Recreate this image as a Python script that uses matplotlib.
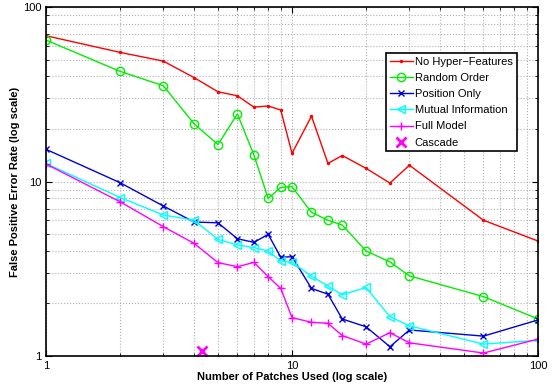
import numpy as np
import matplotlib.pyplot as plt

plt.rcParams['font.family'] = ['Liberation Sans', 'DejaVu Sans']

patches = [1, 2, 3, 4, 5, 6, 7, 8, 9, 10, 12, 14, 16, 20, 25, 30, 60, 100]

no_hyper = [68.5, 55.0, 49.0, 39.4, 32.7, 31.0, 26.7, 27.1, 25.7, 14.5,
            23.7, 12.7, 14.1, 11.9, 9.8, 12.4, 6.0, 4.56]
random_order = [64.7, 42.8, 35.4, 21.4, 16.3, 24.4, 14.2, 8.0, 9.26, 9.34,
                6.66, 6.0, 5.63, 4.0, 3.46, 2.88, 2.19, 1.63]
position_only = [15.3, 9.85, 7.24, 5.86, 5.8, 4.70, 4.48, 4.98, 3.68, 3.71,
                 2.44, 2.26, 1.63, 1.47, 1.13, 1.41, 1.30, 1.61]
mutual_info = [12.7, 8.1, 6.43, 6.0, 4.66, 4.33, 4.18, 4.0, 3.50, 3.44,
               2.87, 2.52, 2.24, 2.47, 1.68, 1.49, 1.17, 1.23]
full_model = [12.6, 7.66, 5.51, 4.42, 3.43, 3.25, 3.44, 2.85, 2.44, 1.66,
              1.56, 1.54, 1.31, 1.17, 1.36, 1.19, 1.04, 1.25]
cascade_x = [4.3]
cascade_y = [1.07]


def main():
    fig = plt.figure(figsize=(5.56, 3.86), dpi=100)
    ax = fig.add_axes([0.0827, 0.0777, 0.885, 0.904])

    ax.plot(patches, no_hyper, color='red', marker='.', ms=3, lw=1, label='No Hyper\u2212Features')
    ax.plot(patches, random_order, color='#00ee00', marker='o', ms=6, mfc='none', lw=1, label='Random Order')
    ax.plot(patches, position_only, color='#0000dd', marker='x', ms=4, lw=1, label='Position Only')
    ax.plot(patches, mutual_info, color='cyan', marker='<', ms=6, mfc='none', lw=1, label='Mutual Information')
    ax.plot(patches, full_model, color='magenta', marker='+', ms=6, lw=1, label='Full Model')
    ax.plot(cascade_x, cascade_y, color='magenta', marker='x', ms=7, mew=2, ls='none', label='Cascade')

    ax.set_xscale('log')
    ax.set_yscale('log')
    ax.set_xlim(1, 100)
    ax.set_ylim(1, 100)
    ax.set_xticks([1, 10, 100])
    ax.set_xticklabels(['1', '10', '100'])
    ax.set_yticks([1, 10, 100])
    ax.set_yticklabels(['1', '10', '100'])
    ax.tick_params(which='both', direction='in', top=True, right=True, labelsize=8)
    ax.tick_params(which='major', length=4)
    ax.tick_params(which='minor', length=2)
    ax.grid(True, which='both', linestyle=':', color='#b0b0b0', lw=0.8)
    for s in ax.spines.values():
        s.set_linewidth(1.2)

    ax.set_xlabel('Number of Patches Used (log scale)', fontsize=8, fontweight='bold', labelpad=1)
    ax.set_ylabel('False Positive Error Rate (log scale)', fontsize=8, fontweight='bold', labelpad=2)

    leg = ax.legend(loc='upper left', bbox_to_anchor=(0.692, 0.868), fontsize=8,
                    fancybox=False, framealpha=1, edgecolor='black',
                    labelspacing=0.55, handlelength=2.0, handletextpad=0.2,
                    borderpad=0.35, borderaxespad=0)
    leg.get_frame().set_linewidth(1.2)

    plt.savefig('out.png', dpi=100)


if __name__ == '__main__':
    main()
